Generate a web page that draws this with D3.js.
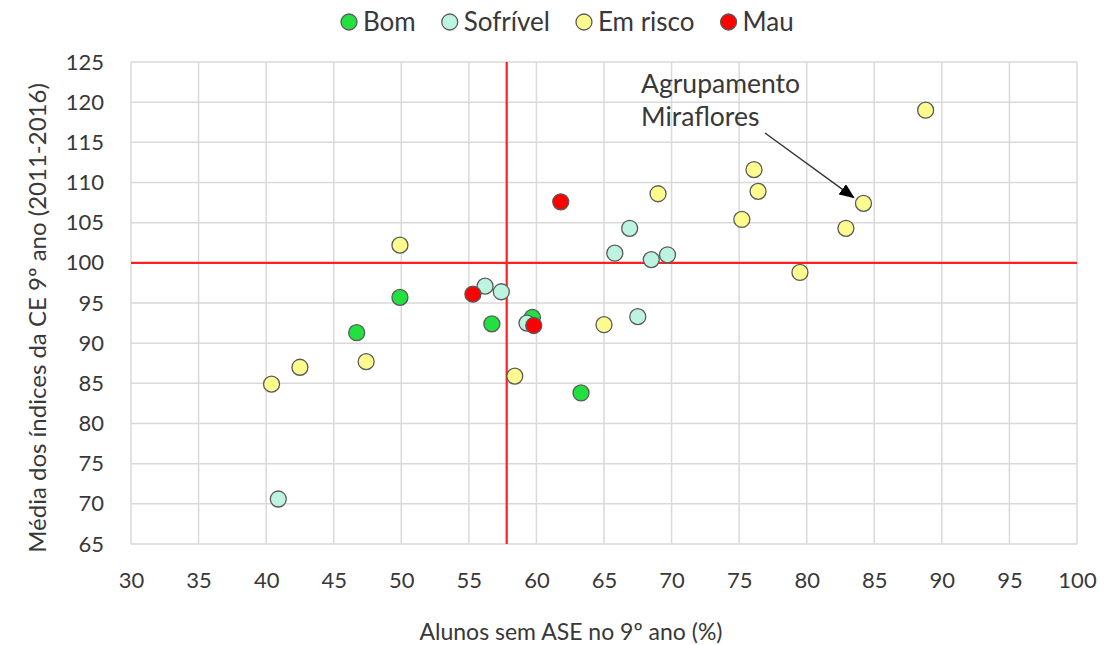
<!DOCTYPE html>
<html>
<head>
<meta charset="utf-8">
<script src="https://cdn.jsdelivr.net/npm/d3@7/dist/d3.min.js"></script>
<style>
  body { margin: 0; background: #fff; }
  text { font-family: Lato, "Open Sans", sans-serif; fill: #383838; }
</style>
</head>
<body>
<div id="chart"></div>
<script>
// data
const bom = [[46.7, 91.3], [49.9, 95.7], [56.7, 92.4], [59.7, 93.2], [63.3, 83.8]];
const sofrivel = [[40.9, 70.6], [56.2, 97.1], [57.4, 96.4], [59.3, 92.5], [65.8, 101.2],
    [66.9, 104.3], [67.5, 93.3], [68.5, 100.4], [69.7, 101.0]];
const emRisco = [[40.4, 84.9], [42.5, 87.0], [47.4, 87.7], [49.9, 102.2], [58.4, 85.9],
    [65.0, 92.3], [69.0, 108.6], [75.2, 105.4], [76.1, 111.6], [76.4, 108.9],
    [79.5, 98.8], [82.9, 104.3], [84.2, 107.4], [88.8, 119.0]];
const mau = [[55.3, 96.1], [59.8, 92.2], [61.8, 107.6]];

const seriesNames = ['Bom', 'Sofrível', 'Em risco', 'Mau'];
const seriesColors = ['#22e03f', '#bdf4df', '#fcfc8e', '#ff0000'];
const refX = 57.8;
const refY = 100;
const annotation = ['Agrupamento', 'Miraflores'];
const annotated = [84.2, 107.4];

const xTicks = d3.range(30, 101, 5);
const yTicks = d3.range(65, 126, 5);

const margin = {top: 62, right: 27, bottom: 101, left: 131};
const width = 1104, height = 645;
const w = width - margin.left - margin.right;
const h = height - margin.top - margin.bottom;

const svg = d3.select('#chart').append('svg')
    .attr('width', width)
    .attr('height', height);

const g = svg.append('g')
    .attr('transform', `translate(${margin.left},${margin.top})`);

let x = d3.scaleLinear().domain([30, 100]).range([0, w]);
let y = d3.scaleLinear().domain([65, 125]).range([h, 0]);

// gridlines
g.append('g').selectAll('line')
    .data(xTicks).enter().append('line')
    .attr('x1', d => x(d)).attr('x2', d => x(d))
    .attr('y1', 0).attr('y2', h)
    .attr('stroke', '#d9d9d9').attr('stroke-width', 1.5);
g.append('g').selectAll('line')
    .data(yTicks).enter().append('line')
    .attr('y1', d => y(d)).attr('y2', d => y(d))
    .attr('x1', 0).attr('x2', w)
    .attr('stroke', '#d9d9d9').attr('stroke-width', 1.5);

// axes (labels only)
let xAxis = g.append('g')
    .attr('transform', `translate(0,${h})`)
    .call(d3.axisBottom(x).tickValues(xTicks).tickSize(0).tickPadding(28));
let yAxis = g.append('g')
    .call(d3.axisLeft(y).tickValues(yTicks).tickSize(0).tickPadding(27));
[xAxis, yAxis].forEach(a => {
    a.select('.domain').remove();
    a.selectAll('text').attr('font-size', 22).attr('font-family', 'Lato').style('fill', '#383838');
});

// reference lines
g.append('line')
    .attr('x1', x(refX)).attr('x2', x(refX))
    .attr('y1', 0).attr('y2', h)
    .attr('stroke', '#ff2020').attr('stroke-width', 2.2);
g.append('line')
    .attr('x1', 0).attr('x2', w)
    .attr('y1', y(refY)).attr('y2', y(refY))
    .attr('stroke', '#ff2020').attr('stroke-width', 2.2);

// points
[bom, sofrivel, emRisco, mau].forEach((data, i) => {
    g.append('g').selectAll('circle')
        .data(data).enter().append('circle')
        .attr('cx', d => x(d[0]))
        .attr('cy', d => y(d[1]))
        .attr('r', 8)
        .attr('fill', seriesColors[i])
        .attr('stroke', '#5a5a5a')
        .attr('stroke-width', 1.3);
});

// annotation + arrow
svg.append('defs').append('marker')
    .attr('id', 'arrow')
    .attr('viewBox', '0 0 10 10')
    .attr('refX', 9).attr('refY', 5)
    .attr('markerWidth', 11).attr('markerHeight', 9)
    .attr('orient', 'auto')
    .attr('preserveAspectRatio', 'none')
    .append('path').attr('d', 'M0,0 L10,5 L0,10 z').attr('fill', '#000');

let ann = g.append('text')
    .attr('x', 641 - margin.left)
    .attr('y', 93 - margin.top)
    .attr('font-size', 26.5);
annotation.forEach((t, i) => {
    ann.append('tspan').attr('x', 641 - margin.left).attr('dy', i ? 33 : 0).text(t);
});
g.append('line')
    .attr('x1', 765 - margin.left).attr('y1', 133 - margin.top)
    .attr('x2', x(annotated[0]) - 10).attr('y2', y(annotated[1]) - 6)
    .attr('stroke', '#333').attr('stroke-width', 1.4)
    .attr('marker-end', 'url(#arrow)');

// axis titles
svg.append('text')
    .attr('x', 571)
    .attr('y', 640)
    .attr('text-anchor', 'middle')
    .attr('font-size', 23)
    .text('Alunos sem ASE no 9º ano (%)');
svg.append('text')
    .attr('transform', `translate(46,${margin.top + h / 2 + 15}) rotate(-90)`)
    .attr('text-anchor', 'middle')
    .attr('font-size', 24)
    .text('Média dos índices da CE 9º ano (2011-2016)');

// legend
let legend = svg.append('g').attr('transform', 'translate(0,22)');
let lx = 341;
seriesNames.forEach((name, i) => {
    legend.append('circle')
        .attr('cx', lx + 8).attr('cy', 0).attr('r', 8)
        .attr('fill', seriesColors[i])
        .attr('stroke', '#5a5a5a').attr('stroke-width', 1.3);
    let t = legend.append('text')
        .attr('x', lx + 22).attr('y', 9)
        .attr('font-size', 26)
        .text(name);
    lx += 22 + t.node().getComputedTextLength() + 26;
});
</script>
</body>
</html>
